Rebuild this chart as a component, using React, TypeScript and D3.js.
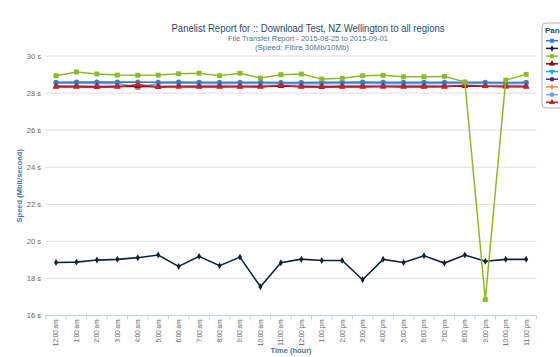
import React from "react";
import * as d3 from "d3";

const hours = [
  "12:00 am", "1:00 am", "2:00 am", "3:00 am", "4:00 am", "5:00 am", "6:00 am", "7:00 am",
  "8:00 am", "9:00 am", "10:00 am", "11:00 am", "12:00 pm", "1:00 pm", "2:00 pm", "3:00 pm",
  "4:00 pm", "5:00 pm", "6:00 pm", "7:00 pm", "8:00 pm", "9:00 pm", "10:00 pm", "11:00 pm",
];
const yTicks = [16, 18, 20, 22, 24, 26, 28, 30];

const blueVals = [28.58, 28.6, 28.59, 28.59, 28.6, 28.58, 28.6, 28.58, 28.58, 28.58, 28.58, 28.57, 28.57, 28.58, 28.58, 28.59, 28.58, 28.58, 28.58, 28.58, 28.58, 28.58, 28.57, 28.58];
const blackVals = [18.86, 18.88, 18.99, 19.03, 19.12, 19.26, 18.65, 19.19, 18.69, 19.15, 17.55, 18.85, 19.04, 18.97, 18.97, 17.93, 19.03, 18.86, 19.22, 18.83, 19.26, 18.93, 19.03, 19.03];
const greenVals = [28.94, 29.14, 29.03, 28.97, 28.96, 28.97, 29.04, 29.07, 28.94, 29.07, 28.81, 28.99, 29.03, 28.76, 28.8, 28.94, 28.96, 28.88, 28.88, 28.9, 28.6, 16.86, 28.7, 29.01];
const darkRedVals = [28.36, 28.36, 28.35, 28.36, 28.36, 28.35, 28.37, 28.36, 28.36, 28.36, 28.36, 28.37, 28.36, 28.35, 28.36, 28.36, 28.37, 28.36, 28.36, 28.36, 28.38, 28.37, 28.36, 28.36];
const lightBlueVals = [28.52, 28.54, 28.52, 28.53, 28.3, 28.52, 28.55, 28.52, 28.5, 28.52, 28.52, 28.51, 28.52, 28.5, 28.52, 28.53, 28.5, 28.5, 28.5, 28.52, 28.52, 28.52, 28.5, 28.52];
const redVals = [28.33, 28.33, 28.32, 28.33, 28.46, 28.32, 28.34, 28.33, 28.33, 28.34, 28.33, 28.42, 28.33, 28.32, 28.33, 28.33, 28.34, 28.33, 28.33, 28.34, 28.42, 28.37, 28.35, 28.34];
const emptyVals: number[] = [];

const seriesNames = ["Wellington", "Auckland", "Christchurch", "Dunedin", "Hamilton", "Napier", "Nelson", "Palmerston North", "Tauranga"];
const seriesColors = ["#2f7ed8", "#0d233a", "#8bbc21", "#910000", "#1aadce", "#492970", "#f28f43", "#77a1e5", "#c42525"];
const seriesSymbols = ["circle", "diamond", "square", "triangle", "triangle-down", "circle", "diamond", "square", "triangle"];
const seriesValues = [blueVals, blackVals, greenVals, darkRedVals, emptyVals, emptyVals, emptyVals, lightBlueVals, redVals];
const drawOrder = [7, 0, 3, 8, 1, 2];

function symbolPath(sym: string, size: number) {
  const t =
    sym === "circle" ? d3.symbolCircle :
    sym === "diamond" ? d3.symbolDiamond :
    sym === "square" ? d3.symbolSquare : d3.symbolTriangle;
  return d3.symbol(t, size)();
}

export default function App() {
  const W = 560, H = 357;
  const left = 45.8, right = 536.4, top = 56, bottom = 315.5;
  const x = d3.scalePoint<string>().domain(hours).range([left, right]).padding(0.5);
  const step = x.step();
  const y = d3.scaleLinear().domain([16, 30]).range([bottom, top]);
  const line = d3.line<number>().x((_, i) => x(hours[i])!).y((d) => y(d));
  const font = "'Liberation Sans', Arial, sans-serif";

  return (
    <svg width={W} height={H} style={{ position: "absolute", left: 0, top: 0, fontFamily: font }}>
      <rect width={W} height={H} fill="#fff" />
      <text x={308} y={32} textAnchor="middle" fontSize={10.5} fill="#274b6d" textLength={273} lengthAdjust="spacingAndGlyphs">
        Panelist Report for :: Download Test, NZ Wellington to all regions
      </text>
      <text x={308} y={41} textAnchor="middle" fontSize={7.2} fill="#4d759e" textLength={160} lengthAdjust="spacingAndGlyphs">
        File Transfer Report - 2015-08-25 to 2015-09-01
      </text>
      <text x={302} y={49.5} textAnchor="middle" fontSize={7.2} fill="#4d759e" textLength={94} lengthAdjust="spacingAndGlyphs">
        (Speed: Fibre 30Mb/10Mb)
      </text>

      {yTicks.map((t) => (
        <g key={t}>
          {t > 16 && <line x1={left} x2={right} y1={y(t)} y2={y(t)} stroke="#dcdcdc" strokeWidth={1} />}
          <text x={41} y={y(t) + 2.7} textAnchor="end" fontSize={7.5} fill="#666">{t} s</text>
        </g>
      ))}

      <line x1={left} x2={right} y1={bottom} y2={bottom} stroke="#C0D0E0" strokeWidth={1} />
      {d3.range(hours.length + 1).map((i) => {
        const xx = left + i * step;
        return <line key={i} x1={xx} x2={xx} y1={bottom} y2={bottom + 4} stroke="#C0D0E0" strokeWidth={1} />;
      })}
      {hours.map((h) => (
        <text key={h} transform={`translate(${x(h)! + 2.4},${bottom + 4}) rotate(-90)`} textAnchor="end" fontSize={6.4} fill="#666">
          {h}
        </text>
      ))}

      <text x={291} y={353} textAnchor="middle" fontSize={7.5} fontWeight="bold" fill="#4d759e">Time (hour)</text>
      <text transform={`translate(22,${(top + bottom) / 2}) rotate(-90)`} textAnchor="middle" fontSize={7.5} fontWeight="bold" fill="#4d759e">
        Speed (Mbit/second)
      </text>

      {drawOrder.map((si) => {
        const vals = seriesValues[si];
        const color = seriesColors[si];
        const sym = seriesSymbols[si];
        const size = sym === "square" ? 24 : sym === "diamond" ? 14 : sym === "circle" ? 20 : 18;
        return (
          <g key={si}>
            <path d={line(vals) || ""} fill="none" stroke={color} strokeWidth={si === 2 ? 1.5 : 1.6} />
            {vals.map((v, i) => (
              <path key={i} d={symbolPath(sym, size) || ""} transform={`translate(${x(hours[i])},${y(v)})`} fill={color} />
            ))}
          </g>
        );
      })}

      <g>
        <rect x={542} y={23} width={100} height={85} rx={4} fill="#fff" stroke="#a0a0a0" strokeWidth={0.8} />
        <text x={545} y={33} fontSize={8} fontWeight="bold" fill="#274b6d">Panelist</text>
        {seriesNames.map((n, i) => {
          const yy = 40.7 + i * 7.7;
          const sym = seriesSymbols[i];
          const size = sym === "square" ? 18 : sym === "diamond" ? 12 : 16;
          return (
            <g key={n}>
              <line x1={546} x2={558} y1={yy} y2={yy} stroke={seriesColors[i]} strokeWidth={1.5} />
              <path d={symbolPath(sym, size) || ""} transform={`translate(552,${yy})${sym === "triangle-down" ? " rotate(180)" : ""}`} fill={seriesColors[i]} />
              <text x={562} y={yy + 2.5} fontSize={7.5} fill="#274b6d">{n}</text>
            </g>
          );
        })}
      </g>
    </svg>
  );
}
